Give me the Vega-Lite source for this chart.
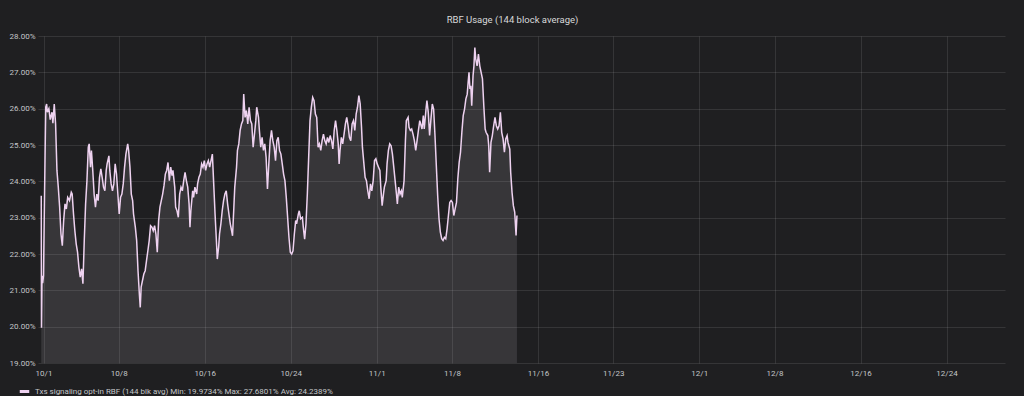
{
"$schema": "https://vega.github.io/schema/vega-lite/v6.json",
"width": 967,
"height": 327,
"autosize": {"type": "pad"},
"padding": {"left": 0, "top": 14, "right": 19, "bottom": 0},
"background": "#1f1f21",
"title": {"text": "RBF Usage (144 block average)", "color": "#d8d9da", "fontSize": 9.5, "font": "Roboto", "fontWeight": "normal", "anchor": "middle", "frame": "bounds", "offset": 8, "dx": 10},
"config": {
  "view": {"stroke": null},
  "axis": {"labelFont": "Roboto", "labelColor": "#c4c6c9", "labelFontSize": 8, "grid": true, "gridColor": "#ffffff", "gridOpacity": 0.1, "gridWidth": 1, "domain": false, "ticks": false, "title": null}
},
"data": {"values": [
{"t":"2022-09-30T19:00","v":23.6},{"t":"2022-09-30T19:30","v":19.97},{"t":"2022-09-30T20:40","v":21.4},{"t":"2022-09-30T22:10","v":21.2},{"t":"2022-10-01T00:00","v":21.4},{"t":"2022-10-01T02:30","v":23.8},{"t":"2022-10-01T05:00","v":26.04},{"t":"2022-10-01T07:00","v":26.13},{"t":"2022-10-01T08:30","v":25.9},{"t":"2022-10-01T12:00","v":26.0},{"t":"2022-10-01T15:00","v":25.7},{"t":"2022-10-01T19:00","v":25.9},{"t":"2022-10-01T21:00","v":25.6},{"t":"2022-10-02T00:00","v":26.13},{"t":"2022-10-02T03:00","v":25.58},{"t":"2022-10-02T06:00","v":24.3},{"t":"2022-10-02T09:00","v":23.84},{"t":"2022-10-02T12:00","v":23.3},{"t":"2022-10-02T15:00","v":22.55},{"t":"2022-10-02T18:00","v":22.23},{"t":"2022-10-02T21:00","v":22.92},{"t":"2022-10-03T00:00","v":23.38},{"t":"2022-10-03T03:00","v":23.24},{"t":"2022-10-03T06:00","v":23.56},{"t":"2022-10-03T10:00","v":23.47},{"t":"2022-10-03T14:00","v":23.7},{"t":"2022-10-03T16:00","v":23.65},{"t":"2022-10-03T19:00","v":23.1},{"t":"2022-10-03T22:00","v":22.64},{"t":"2022-10-04T01:00","v":22.28},{"t":"2022-10-04T04:00","v":22.05},{"t":"2022-10-04T07:00","v":21.64},{"t":"2022-10-04T10:00","v":21.36},{"t":"2022-10-04T13:00","v":21.59},{"t":"2022-10-04T16:00","v":21.18},{"t":"2022-10-04T19:00","v":22.37},{"t":"2022-10-04T22:00","v":23.38},{"t":"2022-10-05T01:00","v":24.02},{"t":"2022-10-05T04:00","v":24.94},{"t":"2022-10-05T06:00","v":25.03},{"t":"2022-10-05T09:00","v":24.39},{"t":"2022-10-05T11:00","v":24.85},{"t":"2022-10-05T14:00","v":24.3},{"t":"2022-10-05T17:00","v":23.65},{"t":"2022-10-05T20:00","v":23.29},{"t":"2022-10-05T23:00","v":23.65},{"t":"2022-10-06T02:00","v":23.47},{"t":"2022-10-06T05:00","v":24.1},{"t":"2022-10-06T08:00","v":24.34},{"t":"2022-10-06T11:00","v":24.1},{"t":"2022-10-06T14:00","v":23.84},{"t":"2022-10-06T17:00","v":23.74},{"t":"2022-10-06T20:00","v":24.3},{"t":"2022-10-06T22:00","v":24.48},{"t":"2022-10-07T02:00","v":24.7},{"t":"2022-10-07T04:00","v":24.3},{"t":"2022-10-07T07:00","v":23.93},{"t":"2022-10-07T10:00","v":23.74},{"t":"2022-10-07T13:00","v":23.93},{"t":"2022-10-07T16:00","v":24.48},{"t":"2022-10-07T19:00","v":24.2},{"t":"2022-10-07T22:00","v":23.65},{"t":"2022-10-08T01:00","v":23.1},{"t":"2022-10-08T04:00","v":23.56},{"t":"2022-10-08T07:00","v":23.65},{"t":"2022-10-08T10:00","v":23.93},{"t":"2022-10-08T13:00","v":24.39},{"t":"2022-10-08T16:00","v":24.75},{"t":"2022-10-08T20:00","v":25.03},{"t":"2022-10-08T22:00","v":24.85},{"t":"2022-10-09T01:00","v":24.39},{"t":"2022-10-09T04:00","v":23.65},{"t":"2022-10-09T07:00","v":23.47},{"t":"2022-10-09T09:00","v":23.1},{"t":"2022-10-09T13:00","v":22.74},{"t":"2022-10-09T16:00","v":22.37},{"t":"2022-10-09T19:00","v":21.54},{"t":"2022-10-09T22:00","v":20.9},{"t":"2022-10-10T00:00","v":20.53},{"t":"2022-10-10T02:00","v":21.09},{"t":"2022-10-10T05:00","v":21.27},{"t":"2022-10-10T08:00","v":21.45},{"t":"2022-10-10T11:00","v":21.54},{"t":"2022-10-10T14:00","v":21.82},{"t":"2022-10-10T17:00","v":22.09},{"t":"2022-10-10T20:00","v":22.37},{"t":"2022-10-10T23:00","v":22.78},{"t":"2022-10-11T02:00","v":22.74},{"t":"2022-10-11T05:00","v":22.64},{"t":"2022-10-11T08:00","v":22.78},{"t":"2022-10-11T11:00","v":22.55},{"t":"2022-10-11T14:00","v":22.05},{"t":"2022-10-11T17:00","v":22.92},{"t":"2022-10-11T20:00","v":23.29},{"t":"2022-10-11T23:00","v":23.47},{"t":"2022-10-12T02:00","v":23.65},{"t":"2022-10-12T05:00","v":23.88},{"t":"2022-10-12T08:00","v":24.2},{"t":"2022-10-12T11:00","v":24.3},{"t":"2022-10-12T14:00","v":24.52},{"t":"2022-10-12T17:00","v":24.02},{"t":"2022-10-12T20:00","v":24.39},{"t":"2022-10-12T23:00","v":24.16},{"t":"2022-10-13T01:00","v":24.3},{"t":"2022-10-13T05:00","v":23.84},{"t":"2022-10-13T07:00","v":23.29},{"t":"2022-10-13T10:00","v":23.19},{"t":"2022-10-13T13:00","v":23.01},{"t":"2022-10-13T16:00","v":23.65},{"t":"2022-10-13T19:00","v":23.84},{"t":"2022-10-13T22:00","v":23.74},{"t":"2022-10-14T01:00","v":24.02},{"t":"2022-10-14T04:00","v":24.25},{"t":"2022-10-14T07:00","v":24.02},{"t":"2022-10-14T10:00","v":23.84},{"t":"2022-10-14T13:00","v":23.38},{"t":"2022-10-14T15:00","v":22.74},{"t":"2022-10-14T17:00","v":23.19},{"t":"2022-10-14T21:00","v":23.74},{"t":"2022-10-14T23:00","v":23.56},{"t":"2022-10-15T02:00","v":23.84},{"t":"2022-10-15T06:00","v":23.65},{"t":"2022-10-15T08:00","v":23.93},{"t":"2022-10-15T11:00","v":24.11},{"t":"2022-10-15T14:00","v":24.2},{"t":"2022-10-15T17:00","v":24.48},{"t":"2022-10-15T20:00","v":24.39},{"t":"2022-10-15T23:00","v":24.57},{"t":"2022-10-16T02:00","v":24.3},{"t":"2022-10-16T05:00","v":24.48},{"t":"2022-10-16T08:00","v":24.57},{"t":"2022-10-16T11:00","v":24.39},{"t":"2022-10-16T14:00","v":24.57},{"t":"2022-10-16T17:00","v":24.75},{"t":"2022-10-16T20:00","v":23.93},{"t":"2022-10-16T23:00","v":23.1},{"t":"2022-10-17T02:00","v":22.37},{"t":"2022-10-17T04:00","v":21.86},{"t":"2022-10-17T07:00","v":22.19},{"t":"2022-10-17T09:00","v":22.55},{"t":"2022-10-17T12:00","v":22.83},{"t":"2022-10-17T15:00","v":23.19},{"t":"2022-10-17T18:00","v":23.47},{"t":"2022-10-17T21:00","v":23.65},{"t":"2022-10-18T00:00","v":23.74},{"t":"2022-10-18T03:00","v":23.38},{"t":"2022-10-18T06:00","v":23.1},{"t":"2022-10-18T09:00","v":22.83},{"t":"2022-10-18T12:00","v":22.64},{"t":"2022-10-18T14:00","v":22.5},{"t":"2022-10-18T17:00","v":23.29},{"t":"2022-10-18T19:00","v":23.84},{"t":"2022-10-18T23:00","v":24.39},{"t":"2022-10-19T01:00","v":24.85},{"t":"2022-10-19T04:00","v":25.03},{"t":"2022-10-19T07:00","v":25.4},{"t":"2022-10-19T10:00","v":25.58},{"t":"2022-10-19T13:00","v":25.67},{"t":"2022-10-19T15:00","v":26.4},{"t":"2022-10-19T18:00","v":25.76},{"t":"2022-10-19T21:00","v":25.95},{"t":"2022-10-20T00:00","v":25.58},{"t":"2022-10-20T03:00","v":26.04},{"t":"2022-10-20T06:00","v":25.67},{"t":"2022-10-20T09:00","v":25.58},{"t":"2022-10-20T12:00","v":24.94},{"t":"2022-10-20T15:00","v":25.3},{"t":"2022-10-20T18:00","v":25.67},{"t":"2022-10-20T20:00","v":26.04},{"t":"2022-10-21T00:00","v":25.76},{"t":"2022-10-21T02:00","v":25.4},{"t":"2022-10-21T05:00","v":24.94},{"t":"2022-10-21T08:00","v":25.21},{"t":"2022-10-21T11:00","v":24.85},{"t":"2022-10-21T14:00","v":25.03},{"t":"2022-10-21T17:00","v":24.66},{"t":"2022-10-21T20:00","v":23.79},{"t":"2022-10-21T23:00","v":24.48},{"t":"2022-10-22T02:00","v":25.12},{"t":"2022-10-22T05:00","v":25.4},{"t":"2022-10-22T08:00","v":25.12},{"t":"2022-10-22T11:00","v":24.94},{"t":"2022-10-22T14:00","v":24.57},{"t":"2022-10-22T17:00","v":25.12},{"t":"2022-10-22T20:00","v":25.21},{"t":"2022-10-22T23:00","v":24.85},{"t":"2022-10-23T02:00","v":24.75},{"t":"2022-10-23T05:00","v":24.48},{"t":"2022-10-23T08:00","v":24.2},{"t":"2022-10-23T11:00","v":24.02},{"t":"2022-10-23T14:00","v":23.56},{"t":"2022-10-23T17:00","v":23.01},{"t":"2022-10-23T20:00","v":22.46},{"t":"2022-10-23T23:00","v":22.05},{"t":"2022-10-24T02:00","v":22.0},{"t":"2022-10-24T05:00","v":22.09},{"t":"2022-10-24T08:00","v":22.55},{"t":"2022-10-24T11:00","v":22.92},{"t":"2022-10-24T13:00","v":22.83},{"t":"2022-10-24T17:00","v":23.1},{"t":"2022-10-24T19:00","v":23.19},{"t":"2022-10-24T22:00","v":22.97},{"t":"2022-10-25T02:00","v":23.01},{"t":"2022-10-25T04:00","v":22.74},{"t":"2022-10-25T07:00","v":22.41},{"t":"2022-10-25T10:00","v":22.83},{"t":"2022-10-25T13:00","v":23.65},{"t":"2022-10-25T16:00","v":24.66},{"t":"2022-10-25T19:00","v":25.67},{"t":"2022-10-25T22:00","v":26.04},{"t":"2022-10-26T01:00","v":26.31},{"t":"2022-10-26T04:00","v":26.22},{"t":"2022-10-26T07:00","v":25.85},{"t":"2022-10-26T10:00","v":25.76},{"t":"2022-10-26T13:00","v":24.94},{"t":"2022-10-26T16:00","v":25.03},{"t":"2022-10-26T19:00","v":24.85},{"t":"2022-10-26T22:00","v":25.12},{"t":"2022-10-27T01:00","v":25.3},{"t":"2022-10-27T04:00","v":25.12},{"t":"2022-10-27T07:00","v":25.03},{"t":"2022-10-27T10:00","v":25.21},{"t":"2022-10-27T13:00","v":25.07},{"t":"2022-10-27T16:00","v":25.26},{"t":"2022-10-27T19:00","v":25.12},{"t":"2022-10-27T22:00","v":24.89},{"t":"2022-10-28T01:00","v":25.4},{"t":"2022-10-28T04:00","v":25.67},{"t":"2022-10-28T07:00","v":25.4},{"t":"2022-10-28T10:00","v":25.03},{"t":"2022-10-28T12:00","v":24.48},{"t":"2022-10-28T14:00","v":24.85},{"t":"2022-10-28T17:00","v":25.21},{"t":"2022-10-28T20:00","v":25.03},{"t":"2022-10-28T23:00","v":25.3},{"t":"2022-10-29T02:00","v":25.58},{"t":"2022-10-29T05:00","v":25.76},{"t":"2022-10-29T08:00","v":25.53},{"t":"2022-10-29T11:00","v":25.21},{"t":"2022-10-29T14:00","v":25.12},{"t":"2022-10-29T17:00","v":25.58},{"t":"2022-10-29T20:00","v":25.67},{"t":"2022-10-29T23:00","v":25.4},{"t":"2022-10-30T02:00","v":25.85},{"t":"2022-10-30T05:00","v":26.04},{"t":"2022-10-30T08:00","v":26.36},{"t":"2022-10-30T11:00","v":26.13},{"t":"2022-10-30T14:00","v":25.49},{"t":"2022-10-30T16:00","v":24.94},{"t":"2022-10-30T20:00","v":24.39},{"t":"2022-10-30T22:00","v":24.11},{"t":"2022-10-31T01:00","v":24.02},{"t":"2022-10-31T04:00","v":23.74},{"t":"2022-10-31T07:00","v":23.52},{"t":"2022-10-31T10:00","v":23.93},{"t":"2022-10-31T13:00","v":23.74},{"t":"2022-10-31T16:00","v":24.02},{"t":"2022-10-31T19:00","v":24.57},{"t":"2022-10-31T22:00","v":24.62},{"t":"2022-11-01T01:00","v":24.48},{"t":"2022-11-01T04:00","v":24.39},{"t":"2022-11-01T07:00","v":24.3},{"t":"2022-11-01T09:00","v":23.84},{"t":"2022-11-01T12:00","v":23.33},{"t":"2022-11-01T15:00","v":23.65},{"t":"2022-11-01T17:00","v":23.84},{"t":"2022-11-01T21:00","v":24.02},{"t":"2022-11-01T23:00","v":24.48},{"t":"2022-11-02T02:00","v":24.85},{"t":"2022-11-02T05:00","v":25.03},{"t":"2022-11-02T08:00","v":24.98},{"t":"2022-11-02T11:00","v":24.75},{"t":"2022-11-02T14:00","v":24.39},{"t":"2022-11-02T17:00","v":24.02},{"t":"2022-11-02T20:00","v":23.65},{"t":"2022-11-02T22:00","v":23.38},{"t":"2022-11-03T01:00","v":23.84},{"t":"2022-11-03T04:00","v":23.65},{"t":"2022-11-03T07:00","v":23.74},{"t":"2022-11-03T09:00","v":23.56},{"t":"2022-11-03T13:00","v":24.02},{"t":"2022-11-03T16:00","v":25.12},{"t":"2022-11-03T18:00","v":25.67},{"t":"2022-11-03T22:00","v":25.76},{"t":"2022-11-04T00:00","v":25.49},{"t":"2022-11-04T03:00","v":25.4},{"t":"2022-11-04T06:00","v":25.44},{"t":"2022-11-04T09:00","v":25.3},{"t":"2022-11-04T12:00","v":25.12},{"t":"2022-11-04T15:00","v":24.85},{"t":"2022-11-04T18:00","v":25.12},{"t":"2022-11-04T21:00","v":25.4},{"t":"2022-11-05T00:00","v":25.67},{"t":"2022-11-05T05:00","v":25.44},{"t":"2022-11-05T08:00","v":25.81},{"t":"2022-11-05T10:00","v":25.44},{"t":"2022-11-05T14:00","v":25.99},{"t":"2022-11-05T16:00","v":26.22},{"t":"2022-11-05T19:00","v":25.9},{"t":"2022-11-05T22:00","v":25.26},{"t":"2022-11-06T01:00","v":25.72},{"t":"2022-11-06T04:00","v":26.13},{"t":"2022-11-06T07:00","v":25.99},{"t":"2022-11-06T10:00","v":25.26},{"t":"2022-11-06T13:00","v":24.43},{"t":"2022-11-06T16:00","v":23.61},{"t":"2022-11-06T19:00","v":22.97},{"t":"2022-11-06T22:00","v":22.6},{"t":"2022-11-07T01:00","v":22.42},{"t":"2022-11-07T04:00","v":22.37},{"t":"2022-11-07T07:00","v":22.46},{"t":"2022-11-07T10:00","v":22.42},{"t":"2022-11-07T13:00","v":22.69},{"t":"2022-11-07T16:00","v":23.06},{"t":"2022-11-07T19:00","v":23.42},{"t":"2022-11-07T22:00","v":23.47},{"t":"2022-11-08T01:00","v":23.42},{"t":"2022-11-08T04:00","v":23.06},{"t":"2022-11-08T07:00","v":23.24},{"t":"2022-11-08T10:00","v":23.42},{"t":"2022-11-08T13:00","v":24.07},{"t":"2022-11-08T16:00","v":24.52},{"t":"2022-11-08T19:00","v":24.8},{"t":"2022-11-08T22:00","v":25.35},{"t":"2022-11-09T01:00","v":25.81},{"t":"2022-11-09T04:00","v":25.99},{"t":"2022-11-09T07:00","v":26.27},{"t":"2022-11-09T10:00","v":26.4},{"t":"2022-11-09T12:00","v":26.72},{"t":"2022-11-09T14:00","v":27.0},{"t":"2022-11-09T16:00","v":26.54},{"t":"2022-11-09T18:00","v":26.63},{"t":"2022-11-09T20:00","v":26.08},{"t":"2022-11-09T23:00","v":26.91},{"t":"2022-11-10T01:00","v":27.18},{"t":"2022-11-10T03:00","v":27.68},{"t":"2022-11-10T05:00","v":27.37},{"t":"2022-11-10T08:00","v":27.18},{"t":"2022-11-10T11:00","v":27.5},{"t":"2022-11-10T14:00","v":27.18},{"t":"2022-11-10T17:00","v":27.0},{"t":"2022-11-10T20:00","v":26.82},{"t":"2022-11-10T23:00","v":26.08},{"t":"2022-11-11T02:00","v":25.44},{"t":"2022-11-11T04:00","v":25.35},{"t":"2022-11-11T08:00","v":25.26},{"t":"2022-11-11T10:00","v":24.98},{"t":"2022-11-11T12:00","v":24.25},{"t":"2022-11-11T15:00","v":25.07},{"t":"2022-11-11T18:00","v":25.26},{"t":"2022-11-11T21:00","v":25.53},{"t":"2022-11-12T00:00","v":25.76},{"t":"2022-11-12T03:00","v":25.53},{"t":"2022-11-12T06:00","v":25.44},{"t":"2022-11-12T09:00","v":25.53},{"t":"2022-11-12T12:00","v":25.9},{"t":"2022-11-12T15:00","v":25.35},{"t":"2022-11-12T18:00","v":25.17},{"t":"2022-11-12T21:00","v":24.8},{"t":"2022-11-13T00:00","v":25.17},{"t":"2022-11-13T03:00","v":25.26},{"t":"2022-11-13T05:00","v":25.07},{"t":"2022-11-13T09:00","v":24.89},{"t":"2022-11-13T11:00","v":24.25},{"t":"2022-11-13T14:00","v":23.7},{"t":"2022-11-13T17:00","v":23.33},{"t":"2022-11-13T20:00","v":23.15},{"t":"2022-11-13T23:00","v":22.51},{"t":"2022-11-14T01:00","v":23.06}
]},
"encoding": {
  "x": {"field": "t", "type": "temporal",
    "scale": {"domain": [{"year": 2022, "month": 9, "date": 30, "hours": 11, "minutes": 43}, {"year": 2022, "month": 12, "date": 29, "hours": 10, "minutes": 36}]},
    "axis": {"format": "%-m/%-d", "labelPadding": 6, "labelFlush": false,
      "values": [{"year":2022,"month":10,"date":1},{"year":2022,"month":10,"date":8},{"year":2022,"month":10,"date":16},{"year":2022,"month":10,"date":24},{"year":2022,"month":11,"date":1},{"year":2022,"month":11,"date":8},{"year":2022,"month":11,"date":16},{"year":2022,"month":11,"date":23},{"year":2022,"month":12,"date":1},{"year":2022,"month":12,"date":8},{"year":2022,"month":12,"date":16},{"year":2022,"month":12,"date":24}]}},
  "y": {"field": "v", "type": "quantitative",
    "scale": {"domain": [19, 28], "zero": false, "nice": false},
    "axis": {"values": [19, 20, 21, 22, 23, 24, 25, 26, 27, 28], "labelExpr": "format(datum.value, '.2f') + '%'", "labelPadding": 3, "minExtent": 38, "maxExtent": 38}}
},
"layer": [
  {"mark": {"type": "area", "color": "#dcd2de", "fillOpacity": 0.13}, "encoding": {"y2": {"datum": 19}}},
  {"mark": {"type": "line", "strokeWidth": 1.5},
   "encoding": {"color": {"datum": "Txs signaling opt-in RBF (144 blk avg)", "type": "nominal",
     "scale": {"range": ["#eed2f0"]},
     "legend": {"orient": "none", "legendX": -20, "legendY": 349, "title": null, "direction": "horizontal",
       "labelFont": "Roboto", "labelFontSize": 8, "labelColor": "#c4c6c9", "labelLimit": 800,
       "labelExpr": "datum.label + '  Min: 19.9734%  Max: 27.6801%  Avg: 24.2389%'",
       "symbolType": "stroke", "symbolStrokeWidth": 3, "symbolSize": 90, "symbolOffset": 0}}}}
]
}
